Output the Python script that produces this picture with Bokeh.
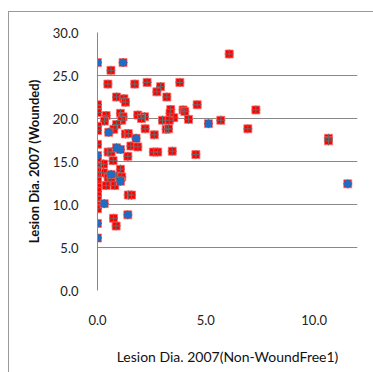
from bokeh.plotting import figure
from bokeh.embed import file_html
from bokeh.resources import INLINE
from bokeh.models import FixedTicker, Range1d, CustomJSTickFormatter

# Red-square series (all observations)
red_x = [0, 1.18, 0.62, 0.48, 1.72, 2.29, 2.91, 2.74, 3.8, 3.2, 0.88, 1.22, 1.29, 4.6,
         3.38, 3.95, 4.03, 7.31, 6.08, 1.06, 1.18, 0.4, 1.86, 2.17, 2.03, 3.35, 3.52,
         4.2, 3.0, 3.31, 5.69, 0.32, 1.12, 0.88, 0.75, 2.2, 3.17, 3.28, 6.94, 1.29,
         1.42, 2.62, 10.66, 10.66, 1.54, 1.86, 0.49, 0.63, 2.58, 2.78, 3.45, 4.54,
         1.4, 0.72, 0.15, 0.28, 1.06, 0.1, 0.28, 0.49, 0.88, 1.12, 0.63, 0.4, 0.8,
         1.42, 1.57, 0.74, 0.86,
         0, 0, 0, 0, 0, 0, 0, 0, 0, 0, 0, 0, 0, 0, 0, 0, 0, 0, 0, 0,
         0.52, 1.78, 0.88, 1.06, 0.63, 1.06, 0.31, 1.4, 5.12, 11.55]
red_y = [26.5, 26.5, 25.6, 24.0, 24.0, 24.2, 23.7, 23.1, 24.2, 22.5, 22.5, 22.3, 21.9, 21.6,
         21.05, 21.0, 20.8, 21.0, 27.5, 20.6, 20.2, 20.35, 20.4, 20.2, 20.0, 20.6, 20.1,
         19.9, 19.8, 19.8, 19.8, 19.7, 19.8, 19.3, 18.75, 18.8, 18.75, 18.8, 18.8, 18.2,
         18.25, 18.1, 17.7, 17.4, 16.8, 16.7, 16.1, 16.1, 16.1, 16.1, 16.2, 15.8,
         15.6, 15.1, 14.7, 14.7, 14.1, 13.7, 13.7, 13.1, 13.3, 13.2, 12.7, 12.2, 12.2,
         11.1, 11.1, 8.4, 7.5,
         21.6, 21.1, 20.7, 19.1, 18.6, 17.0, 15.7, 15.0, 14.4, 13.8, 13.3, 12.7, 12.0,
         11.5, 11.0, 10.5, 9.9, 9.5, 7.8, 6.1,
         18.4, 17.7, 16.6, 16.4, 13.5, 12.7, 10.1, 8.8, 19.4, 12.4]

# Blue-circle series
blue_x = [0, 1.18, 0, 0.52, 1.78, 0.88, 1.06, 0.63, 1.06, 0.31, 1.4, 0, 0, 5.12, 11.55]
blue_y = [26.5, 26.5, 15.7, 18.4, 17.7, 16.6, 16.4, 13.5, 12.7, 10.1, 8.8, 7.8, 6.1, 19.4, 12.4]

x_ticks = [0, 5, 10]
y_ticks = [0, 5, 10, 15, 20, 25, 30]
x_title = "Lesion Dia. 2007(Non-WoundFree1)"
y_title = "Lesion Dia. 2007 (Wounded)"

FONT = "Lato"

p = figure(width=365, height=361, output_backend="svg", toolbar_location=None,
           x_range=Range1d(0, 12), y_range=Range1d(0, 30),
           frame_width=260, frame_height=258,
           min_border_left=88, min_border_top=20, min_border_right=17, min_border_bottom=83)
p.margin = (11, 0, 0, 8)
p.styles = {"border-top": "1px solid #999999", "border-left": "1px solid #999999"}
p.outline_line_color = None
p.background_fill_color = "white"

p.xaxis.ticker = FixedTicker(ticks=x_ticks)
p.yaxis.ticker = FixedTicker(ticks=y_ticks)
p.xaxis.formatter = CustomJSTickFormatter(code="return tick.toFixed(1);")
p.yaxis.formatter = CustomJSTickFormatter(code="return tick.toFixed(1);")

for ax in (p.xaxis, p.yaxis):
    ax.major_tick_line_color = None
    ax.minor_tick_line_color = None
    ax.major_label_text_font = FONT
    ax.major_label_text_font_size = "13px"
    ax.major_label_text_color = "#222222"
    ax.axis_label_text_font = FONT
    ax.axis_label_text_color = "#111111"

p.xaxis.axis_line_color = None
p.yaxis.axis_line_color = "#888888"
p.yaxis.major_label_standoff = 13
p.xaxis.major_label_standoff = 18
p.xaxis.axis_label = x_title
p.yaxis.axis_label = y_title
p.xaxis.axis_label_text_font_style = "normal"
p.xaxis.axis_label_text_font_size = "14px"
p.yaxis.axis_label_text_font_style = "bold"
p.yaxis.axis_label_text_font_size = "13px"
p.xaxis.axis_label_standoff = 20
p.yaxis.axis_label_standoff = 8

p.xgrid.grid_line_color = None
p.ygrid.grid_line_color = "#888888"
p.ygrid.grid_line_width = 1

p.scatter(red_x, red_y, marker="square", size=8, fill_color="#ff0000",
          line_color="#ff7070", line_width=0.8)
p.scatter(red_x, red_y, marker="cross", size=9, line_color="#6a6a6a", line_width=1)
p.scatter(blue_x, blue_y, marker="circle", size=7, fill_color="#1c6ec4",
          line_color="#1c6ec4")

open("out.html", "w").write(file_html(p, INLINE))
